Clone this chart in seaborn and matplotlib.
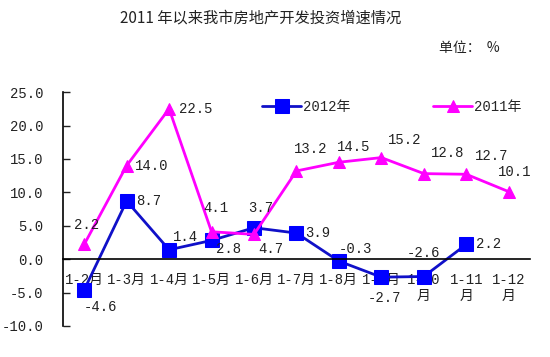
import numpy as np
import pandas as pd
import seaborn as sns
from matplotlib import pyplot as plt
from matplotlib.ticker import FixedLocator, FormatStrFormatter

# 2011年以来我市房地产开发投资增速情况
months = ['1-2月', '1-3月', '1-4月', '1-5月', '1-6月', '1-7月', '1-8月', '1-9月',
          '1-10\n月', '1-11\n月', '1-12\n月']
growth_2012 = [-4.6, 8.7, 1.4, 2.8, 4.7, 3.9, -0.3, -2.7, -2.6, 2.2]
growth_2011 = [2.2, 14.0, 22.5, 4.1, 3.7, 13.2, 14.5, 15.2, 12.8, 12.7, 10.1]
y_ticks = [-10, -5, 0, 5, 10, 15, 20, 25]

# label offsets in points (dx, dy)
off_2012 = [(12, -12), (16, 0), (12, 9), (12, -6), (12, -15), (15, 0),
            (12, 9), (2, -15), (0, 17), (16, 0)]
off_2011 = [(2, 14), (18, 0), (19, 0), (3, 17), (5, 19), (10, 16),
            (11, 11), (17, 13), (17, 15), (18, 13), (4, 14)]

sns.set_theme(style='white')
plt.rcParams['font.family'] = ['Liberation Mono', 'Noto Sans CJK SC', 'DejaVu Sans']
plt.rcParams['axes.unicode_minus'] = False

fig = plt.figure(figsize=(5.5, 3.57), dpi=100)
ax = fig.add_axes([0.1145, 0.087, 0.849, 0.655])

df12 = pd.DataFrame({'x': np.arange(len(growth_2012)), 'y': growth_2012})
df11 = pd.DataFrame({'x': np.arange(len(growth_2011)), 'y': growth_2011})

sns.lineplot(data=df12, x='x', y='y', ax=ax, color='#1010C8', lw=2,
             marker='s', markersize=10, markerfacecolor='#0000FF',
             markeredgecolor='#0000FF', label='2012年')
sns.lineplot(data=df11, x='x', y='y', ax=ax, color='#FF00FF', lw=2,
             marker='^', markersize=9, markerfacecolor='#FF00FF',
             markeredgecolor='#FF00FF', label='2011年')

for i, v in enumerate(growth_2012):
    ax.annotate(f'{v:.1f}', (i, v), xytext=off_2012[i], textcoords='offset points',
                ha='center', va='center', fontsize=10, color='#222222')
for i, v in enumerate(growth_2011):
    ax.annotate(f'{v:.1f}', (i, v), xytext=off_2011[i], textcoords='offset points',
                ha='center', va='center', fontsize=10, color='#222222')

ax.set_xlim(-0.5, len(months) - 0.5)
ax.set_ylim(-10, 25)
ax.set_yticks(y_ticks)
ax.yaxis.set_major_formatter(FormatStrFormatter('%.1f'))
ax.set_xticks(np.arange(len(months)))
ax.set_xticklabels(months, va='top', linespacing=1.7)
ax.xaxis.set_minor_locator(FixedLocator(np.arange(len(months)) + 0.5))
ax.tick_params(axis='x', which='major', length=0, pad=10, labelsize=10, colors='#222222')
ax.tick_params(axis='x', which='minor', length=5, width=1, direction='in', color='black')
ax.tick_params(axis='y', length=5, width=1, direction='in', pad=14, labelsize=10,
               colors='#222222', left=True)
ax.spines['bottom'].set_position(('data', 0))
for s in ['top', 'right']:
    ax.spines[s].set_visible(False)
for s in ['left', 'bottom']:
    ax.spines[s].set_color('black')
    ax.spines[s].set_linewidth(1.2)
ax.set_xlabel('')
ax.set_ylabel('')

ax.legend(loc='upper left', bbox_to_anchor=(0.4, 1.02), ncol=2, frameon=False,
          fontsize=10, handlelength=2.8, handletextpad=0.1, columnspacing=6)

fig.text(0.473, 0.95, '2011 年以来我市房地产开发投资增速情况', ha='center', va='center',
         fontsize=11, family=['Noto Sans CJK SC', 'DejaVu Sans'], color='#222222')
fig.text(0.853, 0.865, '单位：  %', ha='center', va='center', fontsize=10,
         family=['Noto Sans CJK SC', 'DejaVu Sans'], color='#222222')

fig.savefig('out.png', dpi=100)
